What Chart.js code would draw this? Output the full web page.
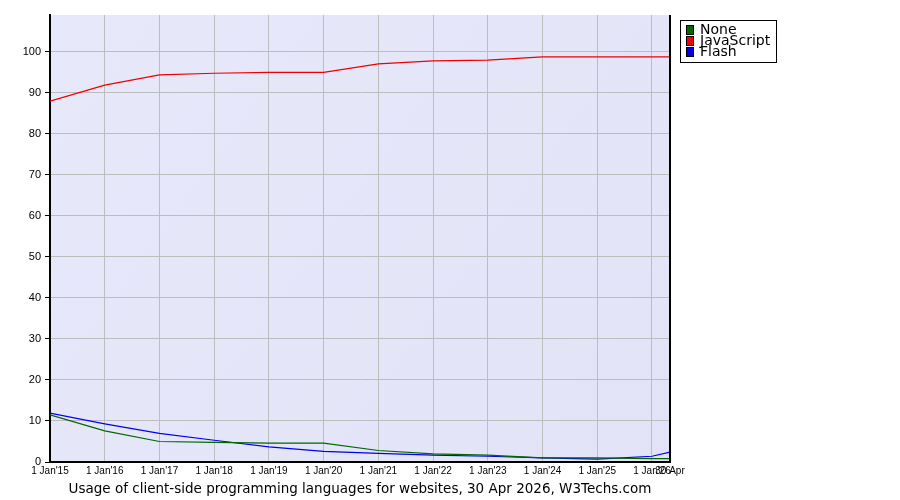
<!DOCTYPE html>
<html><head><meta charset="utf-8">
<script src="https://cdn.jsdelivr.net/npm/chart.js@4.4.1/dist/chart.umd.min.js"></script>
<style>html,body{margin:0;padding:0;background:#fff}</style>
</head><body>
<canvas id="c" width="900" height="500"></canvas>
<script>
const dates = [2015, 2016, 2017, 2018, 2019, 2020, 2021, 2022, 2023, 2024, 2025, 2026, 2026.329];
const tickLabels = ["1 Jan'15","1 Jan'16","1 Jan'17","1 Jan'18","1 Jan'19","1 Jan'20","1 Jan'21","1 Jan'22","1 Jan'23","1 Jan'24","1 Jan'25","1 Jan'26","30 Apr"];
const seriesNames = ["None", "JavaScript", "Flash"];
const noneValues  = [11.5, 7.6, 5.0, 4.8, 4.6, 4.6, 2.8, 2.0, 1.7, 1.0, 1.0, 0.8, 0.8];
const jsValues    = [88.0, 91.9, 94.4, 94.8, 95.0, 95.0, 97.1, 97.8, 98.0, 98.8, 98.8, 98.8, 98.8];
const flashValues = [11.9, 9.3, 7.0, 5.3, 3.7, 2.6, 2.1, 1.7, 1.4, 1.0, 0.7, 1.4, 2.4];
const yTicks = [0, 10, 20, 30, 40, 50, 60, 70, 80, 90, 100];
const titleText = "Usage of client-side programming languages for websites, 30 Apr 2026, W3Techs.com";
const colors = ["#006600", "#ee0000", "#0000ee"];

const toPts = arr => arr.map((v, i) => ({x: dates[i], y: v}));
const seriesValues = [noneValues, jsValues, flashValues];

const extras = {
  id: 'extras',
  beforeDraw(chart) {
    const {ctx, chartArea: a} = chart;
    ctx.save();
    const g = ctx.createLinearGradient(a.left, a.top, a.right, a.bottom);
    g.addColorStop(0, '#e8e8fb');
    g.addColorStop(1, '#e3e3f7');
    ctx.fillStyle = g;
    ctx.fillRect(a.left, a.top, a.right - a.left, a.bottom - a.top);
    ctx.restore();
  },
  afterDraw(chart) {
    const {ctx, chartArea: a} = chart;
    ctx.save();
    ctx.strokeStyle = '#000';
    ctx.lineWidth = 2;
    ctx.beginPath();
    ctx.moveTo(a.right, a.top);
    ctx.lineTo(a.right, a.bottom);
    ctx.stroke();
    const lx = 680.5, ly = 20.5, lw = 96, lh = 42;
    ctx.fillStyle = '#fff';
    ctx.fillRect(lx, ly, lw, lh);
    ctx.lineWidth = 1;
    ctx.strokeRect(lx, ly, lw, lh);
    ctx.font = '14px "DejaVu Sans"';
    ctx.textBaseline = 'middle';
    seriesNames.forEach((n, i) => {
      const cy = 30 + i * 11;
      ctx.fillStyle = colors[i];
      ctx.fillRect(686, cy - 4.5, 8, 9);
      ctx.strokeStyle = '#000';
      ctx.strokeRect(686.5, cy - 4.5, 7, 9);
      ctx.fillStyle = '#000';
      ctx.fillText(n, 700, cy + 0.5);
    });
    ctx.font = '13.5px "DejaVu Sans"';
    ctx.textAlign = 'center';
    ctx.textBaseline = 'alphabetic';
    ctx.fillStyle = '#000';
    ctx.fillText(titleText, (a.left + a.right) / 2, 493);
    ctx.restore();
  }
};

new Chart(document.getElementById('c'), {
  type: 'line',
  data: {
    datasets: seriesNames.map((n, i) => ({
      label: n,
      data: toPts(seriesValues[i]),
      borderColor: colors[i],
      borderWidth: 1.2,
      pointRadius: 0,
      tension: 0,
      fill: false
    }))
  },
  options: {
    responsive: false,
    animation: false,
    devicePixelRatio: 1,
    layout: {padding: {top: 15, right: 230, left: 0, bottom: 0}},
    plugins: {legend: {display: false}, tooltip: {enabled: false}, title: {display: false}},
    scales: {
      x: {
        type: 'linear',
        min: dates[0],
        max: dates[dates.length - 1],
        afterBuildTicks: s => { s.ticks = dates.map(v => ({value: v})); },
        afterFit: s => { s.height = 38; },
        ticks: {
          autoSkip: false, maxRotation: 0, minRotation: 0,
          callback: (v, i) => tickLabels[i],
          font: {family: 'Liberation Sans', size: 10},
          color: '#000', padding: 3
        },
        grid: {color: '#bdbdbd', drawTicks: false, lineWidth: 1},
        border: {color: '#000', width: 2}
      },
      y: {
        min: 0,
        max: 109,
        afterBuildTicks: s => { s.ticks = yTicks.map(v => ({value: v})); },
        afterFit: s => { s.width = 50; },
        ticks: {
          font: {family: 'Liberation Sans', size: 11},
          color: '#000', padding: 4
        },
        grid: {color: '#bdbdbd', tickColor: '#000', tickLength: 5, lineWidth: 1},
        border: {color: '#000', width: 2}
      }
    }
  },
  plugins: [extras]
});
</script>
</body></html>
